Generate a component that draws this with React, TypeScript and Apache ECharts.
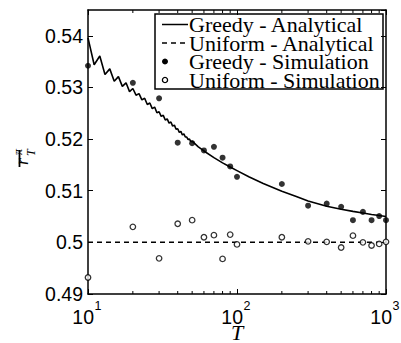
import React, { useEffect, useRef } from "react";
import * as echarts from "echarts";

// Analytical curve (Greedy)
const analyticT = [
  10, 11, 12, 13, 14, 15, 16, 17, 18, 19, 20, 21, 22, 23, 24, 25, 26, 27, 28, 29,
  30, 31, 32, 33, 34, 35, 36, 37, 38, 39, 40, 41, 42, 43, 44, 45, 46, 47, 48, 49,
  50, 55, 60, 70, 80, 90, 100, 120, 150, 200, 250, 300, 400, 500, 600, 700, 800, 900, 1000,
];
const greedyAnalytical = [
  0.5396, 0.5344, 0.5361, 0.5325, 0.5336, 0.5312, 0.5321, 0.5302, 0.5309, 0.5292,
  0.5298, 0.5285, 0.5288, 0.5276, 0.5279, 0.5267, 0.527, 0.5259, 0.5262, 0.5251,
  0.5253, 0.5244, 0.5246, 0.5237, 0.5239, 0.5231, 0.5233, 0.5225, 0.5227, 0.5219,
  0.522, 0.5213, 0.5215, 0.5208, 0.521, 0.5204, 0.5204, 0.5199, 0.52, 0.5195,
  0.5196, 0.5185, 0.5177, 0.5164, 0.5154, 0.5146, 0.5139, 0.5127, 0.5114, 0.5099,
  0.5089, 0.508, 0.507, 0.5064, 0.506, 0.5057, 0.5054, 0.5052, 0.505,
];
const uniformAnalyticT = [10, 1000];
const uniformAnalytical = [0.5, 0.5];

// Simulation points
const simT = [10, 20, 30, 40, 50, 60, 70, 80, 90, 100, 200, 300, 400, 500, 600, 700, 800, 900, 1000];
const greedySim = [
  0.5342, 0.5309, 0.5279, 0.5193, 0.5192, 0.5178, 0.5185, 0.5164, 0.5147, 0.5127,
  0.5113, 0.5071, 0.5075, 0.5069, 0.5043, 0.5059, 0.5043, 0.5051, 0.5043,
];
const uniformSim = [
  0.4932, 0.503, 0.4969, 0.5036, 0.5043, 0.501, 0.5014, 0.4968, 0.5015, 0.4996,
  0.501, 0.5002, 0.5001, 0.499, 0.5013, 0.5, 0.4994, 0.4997, 0.5001,
];

// Axis ticks
const xMajorTicks = [10, 100, 1000];
const minorT = [20, 30, 40, 50, 60, 70, 80, 90, 200, 300, 400, 500, 600, 700, 800, 900];
const legendNames = [
  "Greedy - Analytical",
  "Uniform - Analytical",
  "Greedy - Simulation",
  "Uniform - Simulation",
];

const Y_MIN = 0.49;
const Y_MAX = 0.545;
const X_MIN = 10;
const X_MAX = 1000;

const SANS = "Liberation Sans";
const SERIF = "Liberation Serif";

export default function App() {
  const ref = useRef<HTMLDivElement>(null);

  useEffect(() => {
    if (!ref.current) return;
    const chart = echarts.init(ref.current, undefined, { renderer: "svg" });

    const axisLine = { show: true, onZero: false, lineStyle: { color: "#000", width: 1.5 } };
    const tick = { show: true, inside: true, length: 5, lineStyle: { color: "#000", width: 1 } };

    const legendTop = 14;
    const rowH = 18.5;
    const legendX = 155;
    const legendW = 228;
    const legendH = 75;
    const rowY = (i: number) => legendTop + 10.5 + i * rowH;

    const legendChildren: any[] = [
      {
        type: "rect",
        shape: { x: legendX, y: legendTop, width: legendW, height: legendH },
        style: { fill: "#fff", stroke: "#000", lineWidth: 1.5 },
      },
      {
        type: "line",
        shape: { x1: 162, y1: rowY(0), x2: 188, y2: rowY(0) },
        style: { stroke: "#000", lineWidth: 1.5 },
      },
      {
        type: "line",
        shape: { x1: 162, y1: rowY(1), x2: 188, y2: rowY(1) },
        style: { stroke: "#000", lineWidth: 1.5, lineDash: [5, 4] },
      },
      {
        type: "circle",
        shape: { cx: 165, cy: rowY(2), r: 3 },
        style: { fill: "#000", stroke: "#000", lineWidth: 0 },
      },
      {
        type: "circle",
        shape: { cx: 165, cy: rowY(3), r: 2.6 },
        style: { fill: "#fff", stroke: "#000", lineWidth: 1.3 },
      },
    ];
    legendNames.forEach((n, i) => {
      legendChildren.push({
        type: "text",
        x: 189,
        y: rowY(i),
        style: {
          text: n,
          fontFamily: SERIF,
          fontSize: 22,
          lineHeight: 17,
          fill: "#000",
          align: "left",
          verticalAlign: "middle",
        },
      });
    });

    const ylabelText = (text: string, x: number, y: number, size: number) => ({
      type: "text",
      x,
      y,
      style: {
        text,
        fontFamily: SERIF,
        fontStyle: "italic",
        fontSize: size,
        fill: "#000",
        align: "left",
        verticalAlign: "bottom",
      },
    });

    const option: any = {
      animation: false,
      backgroundColor: "#fff",
      grid: {
        left: 88,
        right: 15,
        top: 10,
        bottom: 49,
        containLabel: false,
        outerBoundsMode: "none",
      },
      xAxis: [
        {
          type: "log",
          logBase: 10,
          min: X_MIN,
          max: X_MAX,
          splitNumber: 2,
          position: "bottom",
          axisLine,
          axisTick: tick,
          splitLine: { show: false },
          axisLabel: { show: false },
          name: "T",
          nameLocation: "middle",
          nameGap: 31,
          nameTextStyle: {
            fontFamily: SERIF,
            fontStyle: "italic",
            fontSize: 22,
            lineHeight: 14,
            color: "#000",
          },
        },
        {
          type: "log",
          logBase: 10,
          min: X_MIN,
          max: X_MAX,
          splitNumber: 2,
          position: "top",
          axisLine,
          axisTick: tick,
          splitLine: { show: false },
          axisLabel: { show: false },
        },
      ],
      yAxis: [
        {
          type: "value",
          min: Y_MIN,
          max: Y_MAX,
          interval: 0.01,
          position: "left",
          axisLine,
          axisTick: tick,
          splitLine: { show: false },
          axisLabel: {
            show: true,
            margin: 5,
            showMaxLabel: false,
            fontFamily: SANS,
            fontSize: 19.5,
            color: "#000",
            formatter: (v: number) => {
              const r = Math.round(v * 100);
              if (Math.abs(v * 100 - r) > 1e-6) return "";
              return String(r / 100);
            },
          },
        },
        {
          type: "value",
          min: Y_MIN,
          max: Y_MAX,
          interval: 0.01,
          position: "right",
          axisLine,
          axisTick: tick,
          splitLine: { show: false },
          axisLabel: { show: false },
        },
      ],
      series: [
        {
          name: legendNames[0],
          type: "line",
          xAxisIndex: 0,
          yAxisIndex: 0,
          data: analyticT.map((t, i) => [t, greedyAnalytical[i]]),
          showSymbol: false,
          symbol: "none",
          lineStyle: { color: "#000", width: 1.6 },
          z: 3,
        },
        {
          name: legendNames[1],
          type: "line",
          xAxisIndex: 0,
          yAxisIndex: 0,
          data: uniformAnalyticT.map((t, i) => [t, uniformAnalytical[i]]),
          showSymbol: false,
          symbol: "none",
          lineStyle: { color: "#000", width: 1.5, type: [5, 4] },
          z: 3,
        },
        {
          name: legendNames[2],
          type: "scatter",
          xAxisIndex: 0,
          yAxisIndex: 0,
          data: simT.map((t, i) => [t, greedySim[i]]),
          symbol: "circle",
          symbolSize: 6,
          clip: false,
          itemStyle: { color: "#000" },
          z: 4,
        },
        {
          name: legendNames[3],
          type: "scatter",
          xAxisIndex: 0,
          yAxisIndex: 0,
          data: simT.map((t, i) => [t, uniformSim[i]]),
          symbol: "circle",
          symbolSize: 5.5,
          clip: false,
          itemStyle: { color: "#fff", borderColor: "#000", borderWidth: 1.3 },
          z: 4,
        },
        {
          name: "minor ticks",
          type: "custom",
          xAxisIndex: 0,
          yAxisIndex: 0,
          silent: true,
          clip: false,
          data: minorT.map((t) => [t, Y_MIN]),
          renderItem: (_params: any, api: any) => {
            const t = api.value(0);
            const pb = api.coord([t, Y_MIN]);
            const pt = api.coord([t, Y_MAX]);
            return {
              type: "group",
              children: [
                {
                  type: "line",
                  shape: { x1: pb[0], y1: pb[1], x2: pb[0], y2: pb[1] - 3 },
                  style: { stroke: "#000", lineWidth: 1 },
                },
                {
                  type: "line",
                  shape: { x1: pt[0], y1: pt[1], x2: pt[0], y2: pt[1] + 3 },
                  style: { stroke: "#000", lineWidth: 1 },
                },
              ],
            };
          },
          z: 5,
        },
        {
          name: "x tick labels",
          type: "custom",
          xAxisIndex: 0,
          yAxisIndex: 0,
          silent: true,
          clip: false,
          data: xMajorTicks.map((t) => [t, Y_MIN]),
          renderItem: (_params: any, api: any) => {
            const t = api.value(0);
            const c = api.coord([t, Y_MIN]);
            const e = Math.round(Math.log10(t));
            return {
              type: "group",
              children: [
                {
                  type: "text",
                  x: c[0] + 6,
                  y: c[1] + 22.5,
                  style: {
                    text: "10",
                    fontFamily: SANS,
                    fontSize: 19.5,
                    lineHeight: 14,
                    fill: "#000",
                    align: "right",
                    verticalAlign: "middle",
                  },
                },
                {
                  type: "text",
                  x: c[0] + 6.5,
                  y: c[1] + 12,
                  style: {
                    text: String(e),
                    fontFamily: SANS,
                    fontSize: 12.5,
                    lineHeight: 10,
                    fill: "#000",
                    align: "left",
                    verticalAlign: "middle",
                  },
                },
              ],
            };
          },
          z: 5,
        },
      ],
      graphic: [
        {
          type: "group",
          z: 100,
          children: legendChildren,
        },
        {
          type: "group",
          x: 28,
          y: 167,
          rotation: Math.PI / 2,
          children: [
            {
              type: "line",
              shape: { x1: 0, y1: -8.5, x2: 17, y2: -8.5 },
              style: { stroke: "#000", lineWidth: 1.8 },
            },
            ylabelText("r", 2, 3, 18),
            ylabelText("π", 12, -4, 12),
            ylabelText("T", 11, 9, 12),
          ],
        },
      ],
    };

    chart.setOption(option);
    return () => chart.dispose();
  }, []);

  return (
    <div
      ref={ref}
      style={{
        position: "fixed",
        left: 0,
        top: 0,
        width: 401,
        height: 343,
        overflow: "hidden",
        background: "#fff",
      }}
    />
  );
}
